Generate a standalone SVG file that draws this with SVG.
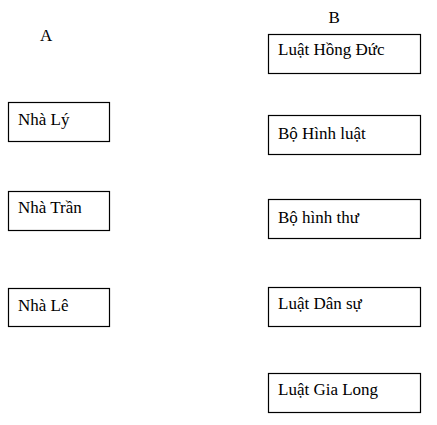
<svg xmlns="http://www.w3.org/2000/svg" width="437" height="425" viewBox="0 0 437 425">
<style>
rect.box{fill:#fff;stroke:#000;stroke-width:1.2}
text{font-family:"Liberation Serif","Times New Roman",serif;font-size:17px;fill:#000}
</style>
<rect width="437" height="425" fill="#fff"/>
<text x="40" y="41">A</text>
<text x="328.5" y="22.5">B</text>
<g id="a1"><rect class="box" x="8.5" y="102.5" width="101" height="39"/><text x="18" y="124.5">Nhà Lý</text></g>
<g id="a2"><rect class="box" x="8.5" y="191.5" width="101" height="39"/><text x="18" y="213">Nhà Trần</text></g>
<g id="a3"><rect class="box" x="8.5" y="288.5" width="101" height="38"/><text x="18" y="310.5">Nhà Lê</text></g>
<g id="b1"><rect class="box" x="268.5" y="34.5" width="152" height="39"/><text x="278" y="55">Luật Hồng Đức</text></g>
<g id="b2"><rect class="box" x="268.5" y="115.5" width="152" height="39"/><text x="278" y="139">Bộ Hình luật</text></g>
<g id="b3"><rect class="box" x="268.5" y="199.5" width="152" height="39"/><text x="278" y="222.5">Bộ hình thư</text></g>
<g id="b4"><rect class="box" x="268.5" y="287.5" width="152" height="39"/><text x="278" y="309">Luật Dân sự</text></g>
<g id="b5"><rect class="box" x="268.5" y="373.5" width="152" height="39"/><text x="278" y="394.5">Luật Gia Long</text></g>
<g id="connectors"></g>
</svg>
